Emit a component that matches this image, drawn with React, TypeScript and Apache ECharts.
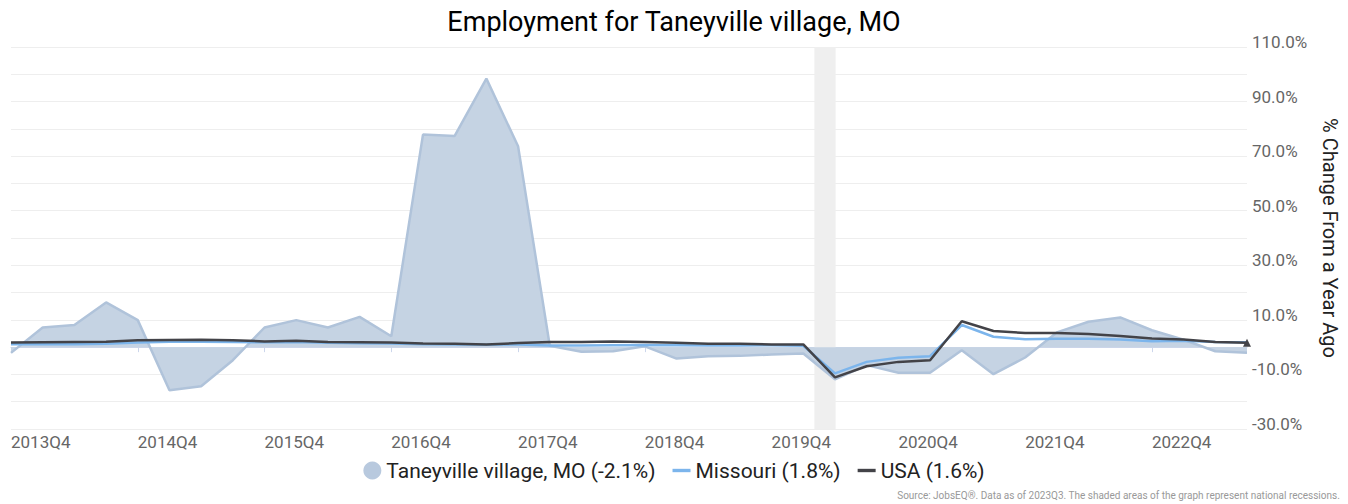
import { useEffect, useRef } from 'react';
import * as echarts from 'echarts';

const QUARTERS = [
  '2013Q4',
  '2014Q1', '2014Q2', '2014Q3', '2014Q4',
  '2015Q1', '2015Q2', '2015Q3', '2015Q4',
  '2016Q1', '2016Q2', '2016Q3', '2016Q4',
  '2017Q1', '2017Q2', '2017Q3', '2017Q4',
  '2018Q1', '2018Q2', '2018Q3', '2018Q4',
  '2019Q1', '2019Q2', '2019Q3', '2019Q4',
  '2020Q1', '2020Q2', '2020Q3', '2020Q4',
  '2021Q1', '2021Q2', '2021Q3', '2021Q4',
  '2022Q1', '2022Q2', '2022Q3', '2022Q4',
  '2023Q1', '2023Q2', '2023Q3',
];

const TANEYVILLE = [
  -2.1, 7.2, 8.1, 16.4, 9.9, -15.8, -14.3, -4.8, 7.2, 9.9, 7.2, 11.1, 4.0,
  77.9, 77.4, 98.4, 73.6, 0.5, -1.7, -1.5, 0.3, -4.2, -3.3, -3.2, -2.7,
  -2.3, -11.8, -6.6, -9.4, -9.4, -1.1, -9.9, -3.8, 5.4, 9.3, 10.9, 6.2, 2.7, -1.5, -2.1,
];

const MISSOURI = [
  1.1, 1.1, 1.1, 1.2, 1.7, 2.0, 2.0, 1.9, 1.8, 1.9, 1.6, 1.4, 1.3,
  1.1, 1.0, 0.9, 1.0, 0.6, 0.6, 0.7, 0.8, 0.7, 0.6, 0.6, 0.7,
  0.5, -9.6, -5.4, -3.9, -3.3, 8.1, 3.8, 2.9, 3.1, 3.1, 2.8, 2.2, 2.3, 1.9, 1.8,
];

const USA = [
  1.7, 1.8, 1.9, 2.0, 2.5, 2.6, 2.7, 2.5, 2.1, 2.3, 1.9, 1.8, 1.7,
  1.3, 1.2, 1.0, 1.5, 1.9, 1.9, 2.1, 1.9, 1.6, 1.2, 1.2, 1.0,
  1.0, -11.1, -7.0, -5.4, -4.8, 9.5, 5.9, 5.2, 5.2, 4.8, 4.1, 3.2, 2.8, 1.9, 1.6,
];

// Recession span in quarter-index units (Feb 2020 to Apr 2020)
const RECESSION = [25.35, 26.02];

const SERIES_NAMES = [
  'Taneyville village, MO (-2.1%)',
  'Missouri (1.8%)',
  'USA (1.6%)',
];

const TITLE = 'Employment for Taneyville village, MO';
const Y_NAME = '% Change From a Year Ago';
const SOURCE = 'Source: JobsEQ®. Data as of 2023Q3. The shaded areas of the graph represent national recessions.';

const FONT = 'Roboto, "Noto Sans", sans-serif';

export default function App() {
  const ref = useRef<HTMLDivElement>(null);

  useEffect(() => {
    if (!ref.current) return;
    const chart = echarts.init(ref.current, undefined, { renderer: 'svg' });
    const lineIcon = 'path://M0,0 L16,0 L16,3 L0,3 Z';
    chart.setOption({
      animation: false,
      backgroundColor: '#ffffff',
      textStyle: { fontFamily: FONT },
      title: {
        text: TITLE,
        left: 'center',
        top: 3,
        textStyle: { fontFamily: FONT, fontSize: 27, fontWeight: 'normal', color: '#000000' },
      },
      grid: { left: 11, right: 100, top: 47, bottom: 75, containLabel: false },
      legend: {
        bottom: 18,
        left: 'center',
        itemWidth: 18,
        itemHeight: 18,
        itemGap: 17,
        textStyle: { fontFamily: FONT, fontSize: 21, color: '#222222' },
        data: [
          { name: SERIES_NAMES[0], icon: 'circle' },
          { name: SERIES_NAMES[1], icon: lineIcon },
          { name: SERIES_NAMES[2], icon: lineIcon },
        ],
      },
      xAxis: [
        {
          type: 'category',
          data: QUARTERS,
          boundaryGap: false,
          axisLine: { show: true, lineStyle: { color: '#ccd6eb', width: 1 } },
          axisTick: { show: true, interval: 3, length: 5, lineStyle: { color: '#ccd6eb' } },
          axisLabel: {
            interval: 3,
            align: 'left',
            margin: 4,
            fontFamily: FONT,
            fontSize: 17,
            color: '#666666',
          },
          splitLine: { show: false },
        },
        {
          type: 'value',
          min: 0,
          max: QUARTERS.length - 1,
          show: false,
        },
      ],
      yAxis: {
        type: 'value',
        position: 'right',
        min: -30,
        max: 110,
        interval: 10,
        name: Y_NAME,
        nameLocation: 'middle',
        nameRotate: -90,
        nameGap: 73,
        nameTextStyle: { fontFamily: FONT, fontSize: 20, color: '#222222' },
        axisLine: { show: false },
        axisTick: { show: false },
        axisLabel: {
          margin: 5,
          fontFamily: FONT,
          fontSize: 17,
          color: '#666666',
          verticalAlign: 'bottom',
          lineHeight: 10,
          formatter: (v: number) => (Math.abs(Math.round(v / 10)) % 2 === 1 ? v.toFixed(1) + '%' : ''),
        },
        splitLine: { show: true, lineStyle: { color: '#eeeeee', width: 1 } },
      },
      graphic: [
        {
          type: 'text',
          right: 8,
          bottom: 4,
          style: { text: SOURCE, fontFamily: FONT, fontSize: 10, fill: '#999999' },
        },
      ],
      series: [
        {
          type: 'line',
          name: 'recession',
          xAxisIndex: 1,
          yAxisIndex: 0,
          data: [[RECESSION[0], null]],
          symbol: 'none',
          lineStyle: { opacity: 0 },
          silent: true,
          z: 0,
          markArea: {
            silent: true,
            itemStyle: { color: '#efefef' },
            data: [[{ xAxis: RECESSION[0] }, { xAxis: RECESSION[1] }]],
          },
        },
        {
          type: 'line',
          name: SERIES_NAMES[0],
          data: TANEYVILLE,
          symbol: 'none',
          lineStyle: { color: '#b0c3da', width: 2.5 },
          itemStyle: { color: '#b8c9de' },
          areaStyle: { color: '#c5d3e3', opacity: 1 },
          z: 2,
        },
        {
          type: 'line',
          name: SERIES_NAMES[1],
          data: MISSOURI,
          symbol: 'none',
          lineStyle: { color: '#7cb5ec', width: 2.5 },
          itemStyle: { color: '#7cb5ec' },
          z: 3,
        },
        {
          type: 'line',
          name: SERIES_NAMES[2],
          data: USA.map((v, i) =>
            i === USA.length - 1 ? { value: v, symbol: 'triangle', symbolSize: 8 } : v
          ),
          symbol: 'none',
          showSymbol: true,
          lineStyle: { color: '#434348', width: 2.5 },
          itemStyle: { color: '#434348' },
          z: 4,
        },
      ],
    });
    return () => chart.dispose();
  }, []);

  return (
    <div
      ref={ref}
      style={{ position: 'fixed', left: 0, top: 0, width: 1348, height: 504 }}
    />
  );
}
